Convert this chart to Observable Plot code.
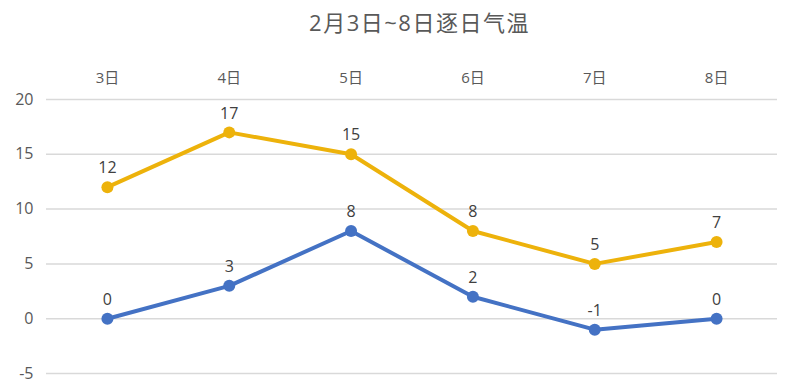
<!DOCTYPE html>
<html><head><meta charset="utf-8">
<script src="https://cdn.jsdelivr.net/npm/d3@7"></script>
<script src="https://cdn.jsdelivr.net/npm/@observablehq/plot@0.6"></script>
<style>
body{margin:0;background:#fff;font-family:"Open Sans","Noto Sans CJK SC",sans-serif;}
#title{height:44px;line-height:44px;font-size:22px;color:#595959;text-align:center;padding-left:52px;letter-spacing:1.5px;font-family:"Open Sans","Noto Sans CJK SC",sans-serif;}
</style></head>
<body>
<div id="title">2月3日~8日逐日气温</div>
<div id="chart"></div>
<script>
const days = ["3日","4日","5日","6日","7日","8日"];
const highs = [12,17,15,8,5,7];
const lows = [0,3,8,2,-1,0];
const yTicks = [-5,0,5,10,15,20];
const seriesNames = ["最高气温","最低气温"];
const seriesColors = ["#EDB20B","#4472C4"];

const data = [];
days.forEach((d,i)=>{
  data.push({day:d, v:highs[i], s:seriesNames[0]});
  data.push({day:d, v:lows[i], s:seriesNames[1]});
});

const chart = Plot.plot({
  width:787, height:347,
  marginLeft:46, marginRight:10, marginTop:55, marginBottom:18,
  style:{fontFamily:'"Open Sans","Noto Sans CJK SC",sans-serif', color:"#595959", background:"#fff"},
  x:{type:"point", domain:days, padding:0.5, round:false, axis:null, label:null},
  y:{domain:[-5,20], axis:null, label:null},
  color:{domain:seriesNames, range:seriesColors},
  marks:[
    Plot.gridY(yTicks,{stroke:"#d9d9d9", strokeOpacity:1, strokeWidth:1.5}),
    Plot.axisY(yTicks,{tickSize:0, tickPadding:13, fontSize:16, fill:"#595959", label:null, tickFormat:d=>String(d)}),
    Plot.axisX(days,{anchor:"top", tickSize:0, tickPadding:17, fontSize:15, fill:"#595959", label:null}),
    Plot.line(data,{x:"day", y:"v", z:"s", stroke:"s", strokeWidth:4}),
    Plot.dot(data,{x:"day", y:"v", fill:"s", r:6, stroke:null}),
    Plot.text(data,{x:"day", y:"v", text:d=>String(d.v), dy:-19, fontSize:16, fill:"#404040"})
  ]
});
document.getElementById("chart").appendChild(chart);
</script>
</body></html>
